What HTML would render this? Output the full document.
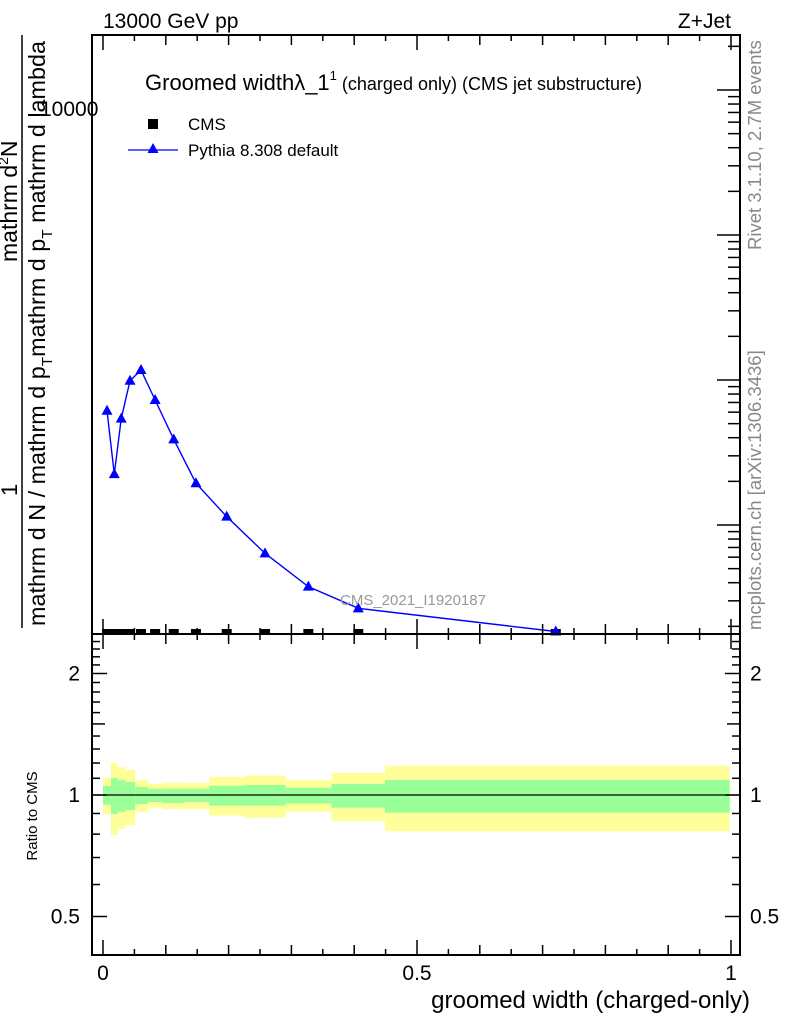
<!DOCTYPE html>
<html><head><meta charset="utf-8"><style>
body{margin:0;background:#fff}
svg{display:block;font-family:"Liberation Sans",Arial,sans-serif}
</style></head><body>
<svg id="chart" width="786" height="1024" viewBox="0 0 786 1024" xmlns="http://www.w3.org/2000/svg">
<rect width="786" height="1024" fill="#fff"/>
<g id="bands"></g>
<g id="marks"></g>
<rect x="92" y="35" width="648" height="599" fill="none" stroke="#000" stroke-width="2"/>
<rect x="92" y="634" width="648" height="321" fill="none" stroke="#000" stroke-width="2"/>
<g id="ticks" stroke="#000" stroke-width="1.5"></g>
<text x="103" y="28" font-size="21">13000 GeV pp</text>
<text x="731" y="28" font-size="21" text-anchor="end">Z+Jet</text>
<text x="145" y="90" font-size="22">Groomed width<tspan>λ_1</tspan><tspan font-size="13" dy="-10">1</tspan><tspan font-size="18" dy="10"> (charged only) (CMS jet substructure)</tspan></text>
<rect x="148" y="119" width="10" height="10" fill="#000"/>
<text x="188" y="130" font-size="17">CMS</text>
<line x1="128" y1="150" x2="178" y2="150" stroke="#0000ff" stroke-width="1.3"/>
<polygon points="153,143 147.5,153 158.5,153" fill="#0000ff"/>
<text x="188" y="156" font-size="17">Pythia 8.308 default</text>
<text x="340" y="605" font-size="15" fill="#999">CMS_2021_I1920187</text>
<text transform="translate(761,250) rotate(-90)" font-size="18.5" fill="#888">Rivet 3.1.10,  2.7M events</text>
<text transform="translate(761,630) rotate(-90)" font-size="18.5" fill="#888">mcplots.cern.ch [arXiv:1306.3436]</text>
<line x1="22" y1="35" x2="22" y2="628" stroke="#000" stroke-width="1.5"/>
<text transform="translate(17,262) rotate(-90)" font-size="23">mathrm d<tspan font-size="14" dy="-9">2</tspan><tspan dy="9">N</tspan></text>
<text transform="translate(17,496) rotate(-90)" font-size="22">1</text>
<text transform="translate(45,626) rotate(-90)" font-size="23" textLength="585" lengthAdjust="spacingAndGlyphs">mathrm d N / mathrm d p<tspan font-size="15" dy="7">T</tspan><tspan dy="-7">mathrm d p</tspan><tspan font-size="15" dy="7">T</tspan><tspan dy="-7"> mathrm d lambda</tspan></text>
<text x="40" y="116" font-size="21">10000</text>
<text transform="translate(37,816) rotate(-90)" font-size="15" text-anchor="middle">Ratio to CMS</text>
<text x="750" y="1008" font-size="24" text-anchor="end">groomed width (charged-only)</text>
<g id="labels"></g>
</svg>
<script>
const xVals=[0.0064,0.018,0.029,0.043,0.0605,0.083,0.1126,0.148,0.197,0.258,0.327,0.4065,0.721];
const pythiaVals=[6.6,1.43,5.45,13.6,17.6,8.55,3.31,1.15,0.513,0.212,0.095,0.0563,0.0318];
const cmsVals=[0.03,0.03,0.03,0.03,0.03,0.03,0.03,0.03,0.03,0.03,0.03,0.03,0.03];
const binEdges=[0,0.0127,0.0234,0.036,0.0514,0.0717,0.095,0.129,0.169,0.2245,0.291,0.364,0.449,0.998];
const yellowHi=[1.104,1.20,1.173,1.153,1.089,1.067,1.073,1.071,1.108,1.117,1.089,1.134,1.182];
const yellowLo=[0.897,0.796,0.824,0.843,0.909,0.930,0.923,0.923,0.889,0.879,0.909,0.862,0.813];
const greenHi=[1.053,1.102,1.089,1.077,1.047,1.036,1.036,1.036,1.054,1.059,1.042,1.065,1.089];
const greenLo=[0.946,0.897,0.908,0.918,0.950,0.961,0.955,0.961,0.941,0.941,0.952,0.930,0.904];
const xTickLabels=["0","0.5","1"];
const ratioTickLabels=["2","1","0.5"];
const NS="http://www.w3.org/2000/svg";
const X=v=>103+628*v;
const Y=v=>Math.min(489-95.5*Math.log10(v),631.5);
const R=v=>795-121.5*Math.log2(v);
function mk(t,a,p){const e=document.createElementNS(NS,t);for(const k in a)e.setAttribute(k,a[k]);p.appendChild(e);return e;}
const bands=document.getElementById('bands'),marks=document.getElementById('marks'),ticks=document.getElementById('ticks'),labels=document.getElementById('labels');
for(let i=0;i<binEdges.length-1;i++){
 const x0=X(binEdges[i]),w=X(binEdges[i+1])-x0;
 const y=mk('rect',{x:x0,y:R(yellowHi[i]),width:w,height:R(yellowLo[i])-R(yellowHi[i]),fill:'#ffff99'},bands);
 
 
 const g=mk('rect',{x:x0,y:R(greenHi[i]),width:w,height:R(greenLo[i])-R(greenHi[i]),fill:'#99ff99'},bands);
 
 
}
const one=mk('line',{x1:92,x2:740,y1:R(1),y2:R(1),stroke:'#000','stroke-width':1.3},bands);


for(let i=0;i<xVals.length;i++){
 const c=mk('rect',{x:X(xVals[i])-5,y:629,width:10,height:5,fill:'#000'},marks);
 
 
}
const pl=mk('polyline',{points:xVals.map((x,i)=>X(x)+','+Y(pythiaVals[i])).join(' '),fill:'none',stroke:'#0000ff','stroke-width':1.4},marks);


for(let i=0;i<xVals.length;i++){
 const x=X(xVals[i]),y=Y(pythiaVals[i]);
 const t=mk('polygon',{points:`${x},${y-6} ${x-5.5},${y+4} ${x+5.5},${y+4}`,fill:'#0000ff'},marks);
 
 
}
for(let k=0;k<=20;k++){
 const v=k*0.05,x=X(v),maj=(k%10===0),len=maj?14:(k%2===0?9:5);
 mk('line',{x1:x,x2:x,y1:633,y2:633-len},ticks);
 mk('line',{x1:x,x2:x,y1:36,y2:36+len},ticks);
 mk('line',{x1:x,x2:x,y1:954,y2:954-len},ticks);
 mk('line',{x1:x,x2:x,y1:635,y2:635+len},ticks);
}
for(let d=-2;d<=4;d++){for(let m=1;m<10;m++){
 const p=525-145*d-145*Math.log10(m);
 if(p<37||p>632)continue;
 const len=m===1?22:11;
 mk('line',{x1:739,x2:739-len,y1:p,y2:p},ticks);
}}
for(let k=4;k<=24;k++){
 const v=k/10,y=R(v);if(y<636||y>953)continue;
 const maj=(k===5||k===10||k===20),len=maj?14:(k===15?12:7);
 mk('line',{x1:93,x2:93+len,y1:y,y2:y},ticks);
 mk('line',{x1:739,x2:739-len,y1:y,y2:y},ticks);
}
[0,0.5,1].forEach((v,i)=>{
 const t=mk('text',{x:X(v),y:980,'font-size':21,'text-anchor':'middle'},labels);t.textContent=xTickLabels[i];
 
 
});
[2,1,0.5].forEach((v,i)=>{
 const a=mk('text',{x:80,y:R(v)+7,'font-size':21,'text-anchor':'end'},labels);a.textContent=ratioTickLabels[i];
 
 
 const b=mk('text',{x:750,y:R(v)+7,'font-size':21},labels);b.textContent=ratioTickLabels[i];
 
 
});
</script>
</body></html>
